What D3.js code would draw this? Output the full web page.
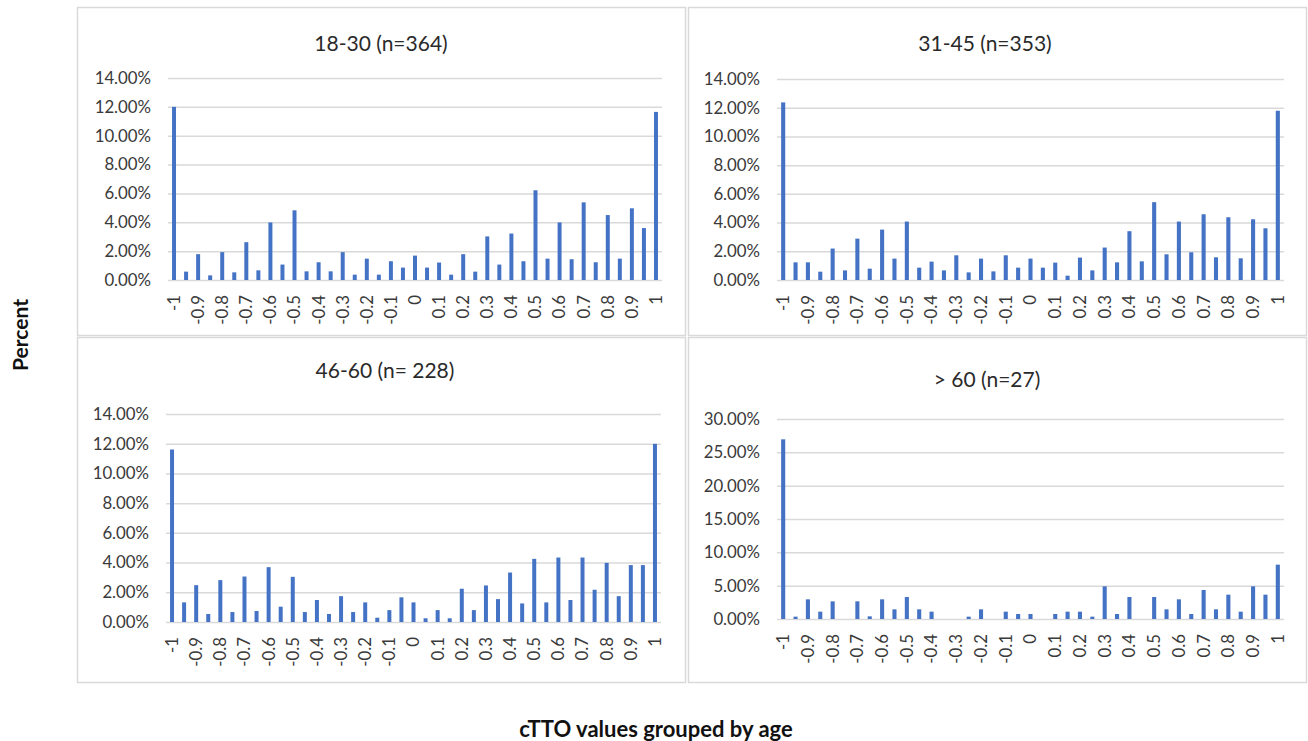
<!DOCTYPE html>
<html><head><meta charset="utf-8">
<script src="https://cdn.jsdelivr.net/npm/d3@7"></script>
<style>
body{margin:0;background:#fff}
svg{display:block}
text{font-family:Lato,"Open Sans",sans-serif}
</style>
</head><body>
<svg id="chart" width="1308" height="741"></svg>
<script>
// ---- data ----
const categories = [-1,-0.95,-0.9,-0.85,-0.8,-0.75,-0.7,-0.65,-0.6,-0.55,-0.5,-0.45,-0.4,-0.35,-0.3,-0.25,-0.2,-0.15,-0.1,-0.05,0,
  0.05,0.1,0.15,0.2,0.25,0.3,0.35,0.4,0.45,0.5,0.55,0.6,0.65,0.7,0.75,0.8,0.85,0.9,0.95,1];
const tickLabels = ["-1","-0.9","-0.8","-0.7","-0.6","-0.5","-0.4","-0.3","-0.2","-0.1","0",
  "0.1","0.2","0.3","0.4","0.5","0.6","0.7","0.8","0.9","1"];
const panelTitles = ["18-30 (n=364)","31-45 (n=353)","46-60 (n= 228)","> 60 (n=27)"];
const age18to30 = [12.0,0.58,1.79,0.32,1.93,0.53,2.62,0.67,3.99,1.07,4.83,0.6,1.23,0.6,1.93,0.37,1.48,0.37,1.3,0.86,1.69,
  0.86,1.21,0.37,1.79,0.58,3.02,1.07,3.22,1.3,6.22,1.48,3.99,1.44,5.38,1.23,4.5,1.48,4.97,3.6,11.65];
const age31to45 = [12.37,1.23,1.23,0.58,2.19,0.67,2.88,0.79,3.51,1.49,4.07,0.86,1.28,0.67,1.72,0.53,1.49,0.6,1.72,0.86,1.49,
  0.86,1.21,0.3,1.56,0.67,2.26,1.23,3.4,1.3,5.42,1.79,4.07,1.93,4.58,1.58,4.37,1.51,4.23,3.6,11.79];
const age46to60 = [11.61,1.32,2.48,0.54,2.82,0.67,3.06,0.74,3.69,1.03,3.04,0.67,1.48,0.54,1.74,0.67,1.32,0.29,0.8,1.66,1.32,
  0.25,0.8,0.25,2.24,0.8,2.46,1.54,3.33,1.25,4.25,1.32,4.34,1.48,4.34,2.17,3.98,1.74,3.83,3.83,11.99];
const ageOver60 = [26.95,0.35,2.95,1.1,2.65,0,2.65,0.4,2.95,1.45,3.3,1.45,1.1,0,0,0.35,1.45,0,1.1,0.75,0.75,
  0,0.75,1.1,1.1,0.35,4.9,0.75,3.3,0,3.3,1.45,2.95,0.75,4.35,1.45,3.65,1.1,4.9,3.65,8.15];
const yTicksSmall = [0,2,4,6,8,10,12,14];
const yTicksLarge = [0,5,10,15,20,25,30];
const yAxisTitle = "Percent";
const xAxisTitle = "cTTO values grouped by age";

// ---- layout ----
const panels = [
  {values:age18to30, ticks:yTicksSmall, box:[77,7,608,328], plot:[168,662,78,280], title:[381,42]},
  {values:age31to45, ticks:yTicksSmall, box:[688,7,618,328], plot:[777,1284,79,280], title:[985,42]},
  {values:age46to60, ticks:yTicksSmall, box:[77,337,608,345], plot:[166,661,414,622], title:[385,369]},
  {values:ageOver60, ticks:yTicksLarge, box:[688,337,618,345], plot:[777,1284,419,619], title:[987,378]}
];
const svg = d3.select("#chart");
const textColor = "#3a3a3a";
const gridColor = "#d9d9d9";
const barColor = "#4472c4";

panels.forEach((p,i)=>{
  const g = svg.append("g");
  g.append("rect").attr("x",p.box[0]+0.5).attr("y",p.box[1]+0.5).attr("width",p.box[2]).attr("height",p.box[3])
    .attr("fill","#fff").attr("stroke",gridColor).attr("stroke-width",1.5);
  g.append("text").attr("x",p.title[0]).attr("y",p.title[1]).attr("text-anchor","middle")
    .attr("dominant-baseline","central").attr("font-size",21).attr("fill","#2a2a2a").text(panelTitles[i]);

  const [x0,x1,y0,y1] = p.plot;
  const x = d3.scaleBand().domain(categories).range([x0,x1]).paddingInner(0.67).paddingOuter(0.335);
  const y = d3.scaleLinear().domain([0,d3.max(p.ticks)]).range([y1,y0]);

  const ya = g.append("g").attr("transform",`translate(${x0},0)`)
    .call(d3.axisLeft(y).tickValues(p.ticks).tickSize(-(x1-x0)).tickPadding(17).tickFormat(d=>d.toFixed(2)+"%"));
  ya.select(".domain").remove();
  ya.selectAll("line").attr("stroke",gridColor).attr("stroke-width",1.5);
  ya.selectAll("text").attr("font-size",16.8).attr("fill",textColor).attr("font-family","Lato,sans-serif");

  g.append("g").selectAll("rect").data(categories).join("rect")
    .attr("x",d=>x(d)).attr("width",x.bandwidth())
    .attr("y",(d,j)=>y(p.values[j])).attr("height",(d,j)=>y(0)-y(p.values[j]))
    .attr("fill",barColor);

  const labelCats = categories.filter((d,j)=>j%2===0);
  const xa = g.append("g").attr("transform",`translate(0,${y1})`)
    .call(d3.axisBottom(x).tickValues(labelCats).tickSize(0).tickFormat((d,j)=>tickLabels[j]));
  xa.select(".domain").remove();
  xa.selectAll("text").attr("font-size",16.8).attr("fill",textColor).attr("font-family","Lato,sans-serif")
    .attr("text-anchor","end").attr("dy","0.35em").attr("y",0)
    .attr("transform","translate(0,15) rotate(-90)");
});

svg.append("text").attr("transform","translate(19,335) rotate(-90)").attr("text-anchor","middle")
  .attr("dominant-baseline","central").attr("font-size",21).attr("font-weight","bold").attr("fill","#111").text(yAxisTitle);
svg.append("text").attr("x",656).attr("y",728).attr("text-anchor","middle").attr("dominant-baseline","central")
  .attr("font-size",22).attr("font-weight","bold").attr("fill","#111").text(xAxisTitle);
</script>
</body></html>
